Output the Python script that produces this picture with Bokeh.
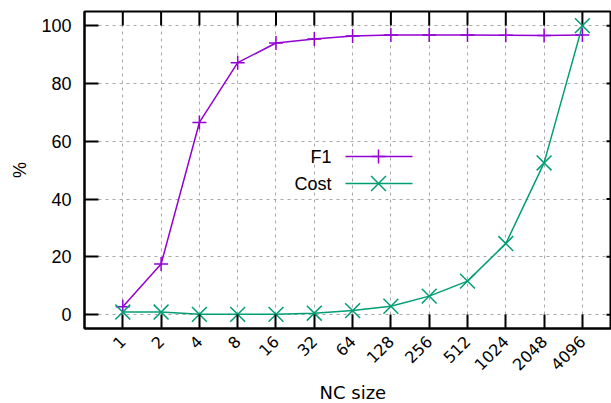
from bokeh.plotting import figure
from bokeh.models import FixedTicker, Label, Title
from bokeh.embed import file_html
from bokeh.resources import INLINE
import math

# ---- data ----
nc_sizes = ["1", "2", "4", "8", "16", "32", "64", "128", "256", "512", "1024", "2048", "4096"]
f1_values = [2.7, 17.5, 66.5, 87.2, 94.0, 95.4, 96.4, 96.8, 96.8, 96.8, 96.7, 96.6, 96.8]
cost_values = [0.9, 0.9, 0.1, 0.1, 0.1, 0.5, 1.4, 2.9, 6.4, 11.6, 24.6, 52.5, 100.0]
y_ticks = [0, 20, 40, 60, 80, 100]

x_idx = list(range(len(nc_sizes)))

F1_COLOR = "#9400d3"
COST_COLOR = "#009e73"
GRID_COLOR = "#a8a8a8"

X0, X1 = -1.0, 12.76
Y0, Y1 = -4.8, 104.9
W, H = 611, 403
BL, BR, BT, BB = 84, 0, 11, 75

p = figure(width=W, height=H, x_range=(X0, X1), y_range=(Y0, Y1),
           output_backend="svg", toolbar_location=None,
           min_border_left=BL, min_border_right=BR, min_border_top=BT, min_border_bottom=BB)
p.outline_line_color = "black"
p.outline_line_width = 2
p.outline_line_alpha = 1.0
p.background_fill_color = "white"
p.border_fill_color = "white"


def px2x(px):
    return X0 + (px - BL) / (W - BR - BL) * (X1 - X0)


def py2y(py):
    return Y1 - (py - BT) / (H - BB - BT) * (Y1 - Y0)


xt = FixedTicker(ticks=x_idx)
yt = FixedTicker(ticks=y_ticks)

# grid
p.xgrid.ticker = xt
p.ygrid.ticker = yt
for g in (p.xgrid, p.ygrid):
    g.grid_line_color = GRID_COLOR
    g.grid_line_dash = "3 4"
    g.grid_line_width = 1

# bottom axis
xa = p.xaxis[0]
xa.ticker = xt
xa.major_label_overrides = {i: s for i, s in zip(x_idx, nc_sizes)}
xa.major_label_orientation = math.pi / 4
xa.major_label_text_font = "DejaVu Sans"
xa.major_label_text_font_size = "16px"
xa.major_label_text_color = "black"
xa.major_label_standoff = 10

# left axis
ya = p.yaxis[0]
ya.ticker = yt
ya.major_label_text_font = "Liberation Sans"
ya.major_label_text_font_size = "18px"
ya.major_label_text_color = "black"
ya.major_label_standoff = 13
ya.axis_label = "%"
ya.axis_label_text_font = "Liberation Sans"
ya.axis_label_text_font_size = "18px"
ya.axis_label_text_font_style = "normal"
ya.axis_label_text_color = "black"
ya.axis_label_standoff = 8

for ax in (xa, ya):
    ax.axis_line_color = "black"
    ax.axis_line_width = 2
    ax.major_tick_line_color = "black"
    ax.major_tick_line_width = 2
    ax.major_tick_in = 14
    ax.major_tick_out = 0
    ax.minor_tick_line_color = None

# mirror ticks on top and right edges (gnuplot style)
p.segment(x0=x_idx, y0=[Y1] * len(x_idx), x1=x_idx, y1=[py2y(BT + 14)] * len(x_idx),
          line_color="black", line_width=2)
p.segment(x0=[px2x(W - 5)] * len(y_ticks), y0=y_ticks, x1=[X1] * len(y_ticks), y1=y_ticks,
          line_color="black", line_width=2)

# series
p.line(x_idx, f1_values, line_color=F1_COLOR, line_width=1.5)
p.scatter(x_idx, f1_values, marker="cross", size=14, line_color=F1_COLOR, line_width=1.5)
p.line(x_idx, cost_values, line_color=COST_COLOR, line_width=1.5)
p.scatter(x_idx, cost_values, marker="x", size=21, line_color=COST_COLOR, line_width=1.5)

# legend (gnuplot style: label left, sample right)
legend_rows = [("F1", F1_COLOR, "cross", 14, 156), ("Cost", COST_COLOR, "x", 21, 183)]
for name, col, mk, sz, py in legend_rows:
    yy = py2y(py)
    p.line([px2x(345), px2x(412)], [yy, yy], line_color=col, line_width=1.5)
    p.scatter([px2x(378)], [yy], marker=mk, size=sz, line_color=col, line_width=1.5)
    p.add_layout(Label(x=px2x(331), y=yy, text=name, text_align="right", text_baseline="middle",
                       text_font="Liberation Sans", text_font_size="18px", text_color="black"))

# x axis label, centred on the (cropped) gnuplot frame
p.add_layout(Title(text="NC size", align="left", offset=235, standoff=2,
                   text_font="DejaVu Sans", text_font_size="18px", text_font_style="normal",
                   text_color="black"), "below")

open("out.html", "w").write(file_html(p, INLINE))
